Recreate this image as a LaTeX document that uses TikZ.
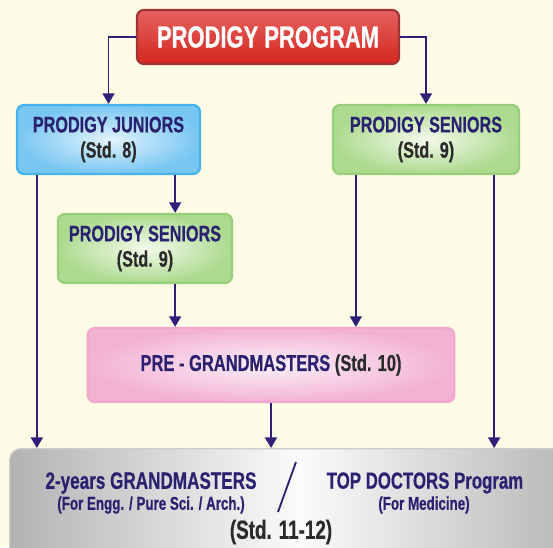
\documentclass[tikz,border=0pt]{standalone}
\usepackage{fontspec}
\setmainfont{Liberation Sans}[FakeStretch=0.72, BoldFeatures={FakeBold=0.6}]
\usetikzlibrary{arrows.meta,calc}
\definecolor{navy}{HTML}{2E1F78}
\definecolor{navytext}{HTML}{2A2270}
\definecolor{stdgray}{HTML}{2B2B2B}
\definecolor{cream}{HTML}{FEFCE6}
\tikzset{
    box/.style={draw, line width=1.6pt, rounded corners=5pt, align=center,
        inner sep=0pt, text=navytext,
        font=\bfseries\fontsize{16}{18}\selectfont},
    redbox/.style={box, draw=red!55!black!80, top color={rgb,255:red,230;green,98;blue,96},
        bottom color={rgb,255:red,212;green,38;blue,30}, text=white,
        font=\bfseries\fontsize{21.7}{24}\selectfont},
    bluebox/.style={box, draw={rgb,255:red,70;green,180;blue,236},
        inner color={rgb,255:red,226;green,244;blue,253},
        outer color={rgb,255:red,120;green,198;blue,242}},
    greenbox/.style={box, draw={rgb,255:red,150;green,206;blue,122},
        inner color={rgb,255:red,244;green,250;blue,236},
        outer color={rgb,255:red,172;green,218;blue,142}},
    pinkbox/.style={box, draw={rgb,255:red,242;green,168;blue,204},
        inner color={rgb,255:red,252;green,240;blue,247},
        outer color={rgb,255:red,243;green,178;blue,212}},
    flow/.style={navy, line width=1.3pt, -{Triangle[width=8.5pt,length=7.5pt]}},
    std/.style={text=stdgray},
}
\begin{document}
\begin{tikzpicture}[x=0.025cm, y=-0.025cm]
            \clip (0,0) rectangle (553,547);
            \fill[cream] (0,0) rectangle (553,547);

            \node[redbox, minimum width=6.55cm, minimum height=1.35cm]
                (prog) at (268,37) {PRODIGY PROGRAM};
            \node[bluebox, minimum width=4.575cm, minimum height=1.725cm]
                (jun) at (108.5,139.5) {PRODIGY JUNIORS\\{\color{stdgray}(Std. 8)}};
            \node[greenbox, minimum width=4.65cm, minimum height=1.725cm]
                (sr) at (426,139.5) {PRODIGY SENIORS\\{\color{stdgray}(Std. 9)}};
            \node[greenbox, minimum width=4.35cm, minimum height=1.725cm]
                (sl) at (145,248.5) {PRODIGY SENIORS\\{\color{stdgray}(Std. 9)}};
            \node[pinkbox, minimum width=9.16cm, minimum height=1.85cm,
                font=\bfseries\fontsize{16.3}{18}\selectfont]
                (pre) at (271,365) {PRE - GRANDMASTERS {\color{stdgray}(Std. 10)}};
            \node[box, draw=gray!40, line width=1pt, rounded corners=8pt,
                left color=gray!60, right color=gray!60, middle color=gray!3,
                minimum width=14.5cm, minimum height=4cm, anchor=north west]
                (bot) at (9,448) {};

            \node[text=navytext, font=\bfseries\fontsize{16.9}{19}\selectfont]
                (gm) at (151,483) {2-years GRANDMASTERS};
            \node[text=navytext, font=\bfseries\fontsize{13.2}{15}\selectfont]
                (gmsub) at (151,505) {(For Engg. / Pure Sci. / Arch.)};
            \node[text=navytext, font=\bfseries\fontsize{16.6}{19}\selectfont]
                (td) at (425,483) {TOP DOCTORS Program};
            \node[text=navytext, font=\bfseries\fontsize{13.2}{15}\selectfont]
                (tdsub) at (424,505) {(For Medicine)};
            \node[std, font=\bfseries\fontsize{18.6}{21}\selectfont]
                (grade) at (281,532) {(Std. 11-12)};
            \draw[navytext, line width=1.3pt] (296,462) -- (278,512);

            \coordinate (ja) at ($(jun.south east)+(-26,0)$);
            \coordinate (jb) at ($(jun.south west)+(21,0)$);
            \coordinate (sa) at ($(sl.south east)+(-58,0)$);
            \coordinate (sb) at ($(sr.south west)+(24,0)$);
            \coordinate (sc) at ($(sr.south east)+(-26,0)$);
            \coordinate (pa) at (pre.south);

            \draw[flow] (prog.west) -| (jun.north);
            \draw[flow] (prog.east) -| (sr.north);
            \foreach \a/\b in {ja/sl, sa/pre, sb/pre, jb/bot, pa/bot, sc/bot} {
                \draw[flow] (\a) -- (\a |- \b.north);
            }
        \end{tikzpicture}
\end{document}
